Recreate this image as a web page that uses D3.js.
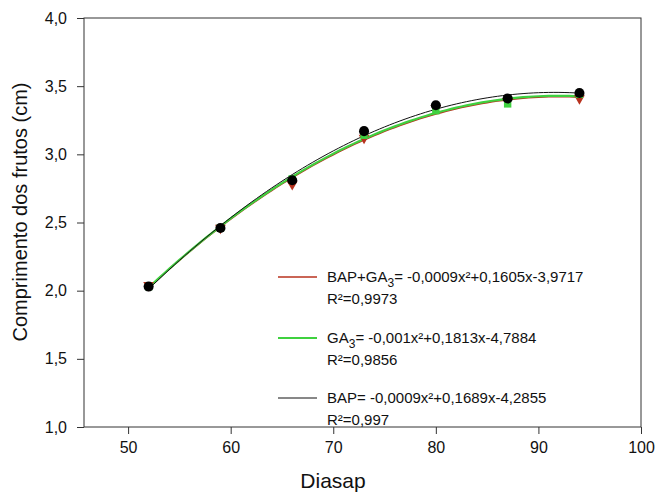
<!DOCTYPE html>
<html>
<head>
<meta charset="utf-8">
<script src="https://cdn.jsdelivr.net/npm/d3@7"></script>
<style>
  body { margin: 0; background: #fff; }
  text { font-family: "Liberation Sans", Arial, sans-serif; fill: #111; }
</style>
</head>
<body>
<div id="plot"></div>
<script>
let width = 655;
let height = 495;
let margin = {left: 84, right: 14, top: 18, bottom: 68};

// days after anthesis
let dias = [52, 59, 66, 73, 80, 87, 94];
let bapGa3 = [2.04, 2.46, 2.78, 3.12, 3.34, 3.39, 3.41];
let ga3 = [2.03, 2.46, 2.82, 3.14, 3.32, 3.37, 3.44];
let bap = [2.03, 2.46, 2.81, 3.17, 3.36, 3.41, 3.45];

let xTicks = [50, 60, 70, 80, 90, 100];
let yTicks = [1.0, 1.5, 2.0, 2.5, 3.0, 3.5, 4.0];

let series = [
    {name: "BAP+GA", sub: "3", eq: "= -0,0009x²+0,1605x-3,9717", r2: "R²=0,9973", values: bapGa3, color: "#b8321e", width: 1.6, marker: "triangle"},
    {name: "GA", sub: "3", eq: "= -0,001x²+0,1813x-4,7884", r2: "R²=0,9856", values: ga3, color: "#3fd13f", width: 2.2, marker: "square"},
    {name: "BAP", sub: "", eq: "= -0,0009x²+0,1689x-4,2855", r2: "R²=0,997", values: bap, color: "#111111", width: 1, marker: "circle"}
];

let svg = d3.select("#plot")
    .append("svg")
    .attr("width", width)
    .attr("height", height);

let x = d3.scaleLinear()
    .domain([45.7, 100])
    .range([margin.left, width - margin.right]);

let y = d3.scaleLinear()
    .domain([1, 4])
    .range([height - margin.bottom, margin.top]);

// frame
svg.append("rect")
    .attr("x", x.range()[0])
    .attr("y", y.range()[1])
    .attr("width", x.range()[1] - x.range()[0])
    .attr("height", y.range()[0] - y.range()[1])
    .attr("fill", "none")
    .attr("stroke", "#333")
    .attr("stroke-width", 1);

let xAxis = svg.append("g")
    .attr("transform", "translate(0," + y.range()[0] + ")")
    .call(d3.axisBottom(x).tickValues(xTicks).tickSize(7).tickPadding(8).tickFormat(d3.format("d")));

let yAxis = svg.append("g")
    .attr("transform", "translate(" + x.range()[0] + ",0)")
    .call(d3.axisLeft(y).tickValues(yTicks).tickSize(7).tickPadding(10)
        .tickFormat(d => d3.format(".1f")(d).replace(".", ",")));

[xAxis, yAxis].forEach(g => {
    g.select(".domain").remove();
    g.selectAll("line").attr("stroke", "#333");
    g.selectAll("text").style("font-size", "16px").attr("fill", "#111");
});

svg.append("text")
    .attr("x", 333)
    .attr("y", 488)
    .style("text-anchor", "middle")
    .style("font-size", "21px")
    .text("Diasap");

svg.append("text")
    .attr("transform", "translate(27,212) rotate(-90)")
    .style("text-anchor", "middle")
    .style("font-size", "20px")
    .text("Comprimento dos frutos (cm)");

// least squares quadratic fit of the read points
function quadFit(xs, ys) {
    let s = [0, 0, 0, 0, 0], t = [0, 0, 0];
    xs.forEach((xv, i) => {
        for (let k = 0; k < 5; k++) s[k] += Math.pow(xv, k);
        for (let k = 0; k < 3; k++) t[k] += ys[i] * Math.pow(xv, k);
    });
    let m = [[s[0], s[1], s[2], t[0]], [s[1], s[2], s[3], t[1]], [s[2], s[3], s[4], t[2]]];
    for (let i = 0; i < 3; i++) {
        for (let j = i + 1; j < 3; j++) {
            let f = m[j][i] / m[i][i];
            for (let k = i; k < 4; k++) m[j][k] -= f * m[i][k];
        }
    }
    let c = [0, 0, 0];
    for (let i = 2; i >= 0; i--) {
        let sum = m[i][3];
        for (let k = i + 1; k < 3; k++) sum -= m[i][k] * c[k];
        c[i] = sum / m[i][i];
    }
    return xv => c[0] + c[1] * xv + c[2] * xv * xv;
}

let line = d3.line()
    .x(d => x(d[0]))
    .y(d => y(d[1]));

let xs = d3.range(dias[0], dias[dias.length - 1] + 0.01, 0.5);

series.forEach(s => {
    let f = quadFit(dias, s.values);
    svg.append("path")
        .attr("d", line(xs.map(v => [v, f(v)])))
        .attr("fill", "none")
        .attr("stroke", s.color)
        .attr("stroke-width", s.width);
});

let symbols = {
    triangle: d3.symbol().type(d3.symbolTriangle).size(50),
    square: d3.symbol().type(d3.symbolSquare).size(55),
    circle: d3.symbol().type(d3.symbolCircle).size(80)
};

series.forEach(s => {
    svg.selectAll(null)
        .data(s.values)
        .enter()
        .append("path")
        .attr("d", symbols[s.marker])
        .attr("transform", (d, i) => "translate(" + x(dias[i]) + "," + y(d) + ")" + (s.marker == "triangle" ? " rotate(180)" : ""))
        .attr("fill", s.color == "#111111" ? "#000" : s.color);
});

// legend
let legendY = [277, 338, 398];
series.forEach((s, i) => {
    let ly = legendY[i];
    svg.append("line")
        .attr("x1", 278).attr("x2", 317)
        .attr("y1", ly).attr("y2", ly)
        .attr("stroke", s.color)
        .attr("stroke-width", s.width);
    let t = svg.append("text")
        .attr("x", 327)
        .attr("y", ly + 5)
        .style("font-size", "15px");
    t.append("tspan").text(s.name);
    if (s.sub) {
        t.append("tspan").attr("dy", 5).style("font-size", "12px").text(s.sub);
        t.append("tspan").attr("dy", -5).text(s.eq);
    } else {
        t.append("tspan").text(s.eq);
    }
    svg.append("text")
        .attr("x", 327)
        .attr("y", ly + 27)
        .style("font-size", "15px")
        .text(s.r2);
});
</script>
</body>
</html>
